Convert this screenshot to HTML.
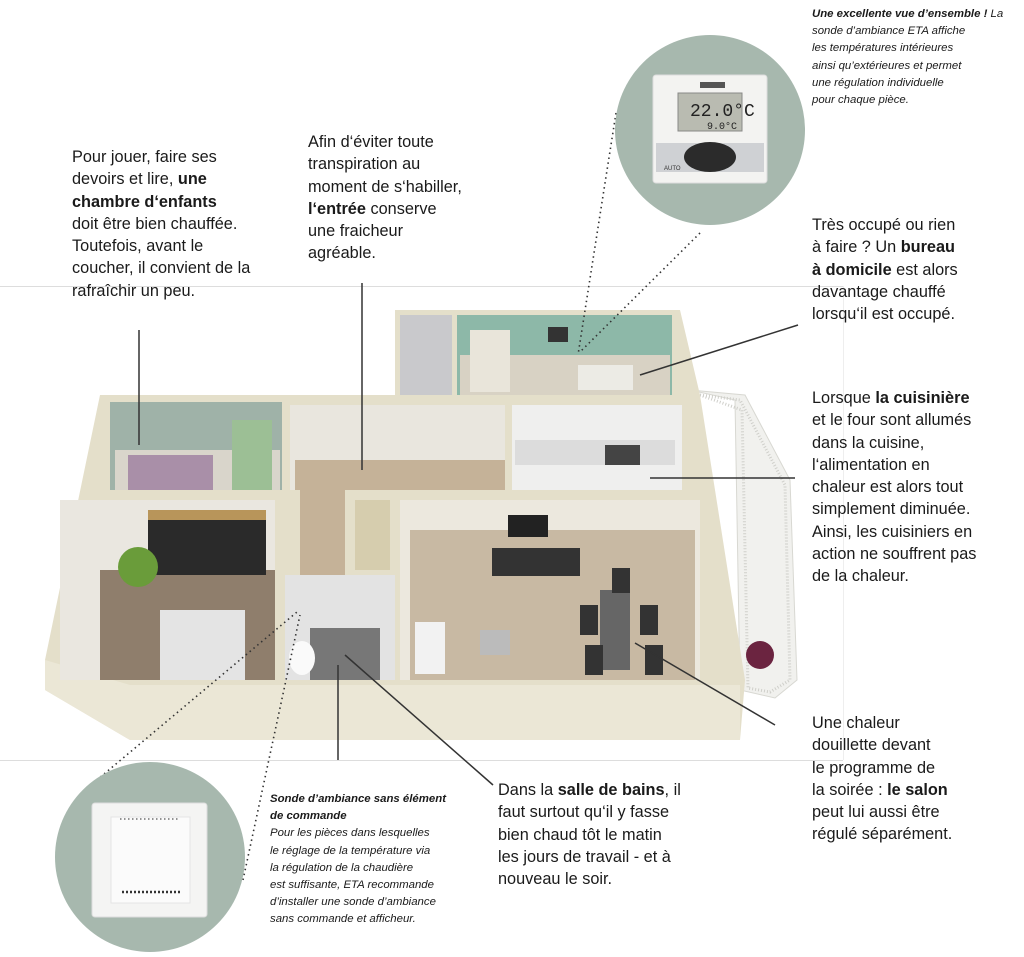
<!DOCTYPE html>
<html><head><meta charset="utf-8"><style>
body{margin:0;width:1024px;height:957px;background:#fff;position:relative;overflow:hidden;font-family:"Liberation Sans",sans-serif;color:#1a1a1a}
.t{position:absolute;font-size:16.3px;line-height:22.3px;white-space:nowrap}
.s{position:absolute;font-size:11.4px;line-height:17.2px;font-style:italic;white-space:nowrap}
svg{position:absolute;left:0;top:0}
</style></head><body>
<svg width="1024" height="957">
<line x1="0" y1="286.5" x2="843" y2="286.5" stroke="#ddd"/>
<line x1="0" y1="760.5" x2="843" y2="760.5" stroke="#ddd"/>
<line x1="843.5" y1="286" x2="843.5" y2="760" stroke="#eee"/>
<!-- balcony -->
<polygon points="690,390 745,395 790,480 797,680 775,698 740,690 735,400" fill="#f1f1ee" stroke="#d8d8d2"/>
<polygon points="700,395 740,400 785,485 790,680 770,692 748,688 742,410" fill="none" stroke="#cfcfca" stroke-dasharray="1 2" stroke-width="3"/>
<!-- building slab -->
<polygon points="100,395 395,395 395,310 680,310 700,395 745,680 740,740 130,740 45,690 45,660" fill="#e4dfca"/>
<polygon points="45,660 130,685 740,685 740,740 130,740 45,690" fill="#ebe7d6"/>
<!-- top wing -->
<rect x="400" y="315" width="52" height="80" fill="#c9c9cc"/>
<rect x="457" y="315" width="215" height="80" fill="#8db8a8"/>
<rect x="460" y="355" width="210" height="40" fill="#d8d2c4"/>
<rect x="470" y="330" width="40" height="62" fill="#e9e5da"/>
<rect x="578" y="365" width="55" height="25" fill="#ecebe5"/>
<rect x="548" y="327" width="20" height="15" fill="#333"/>
<!-- kids room -->
<rect x="110" y="402" width="172" height="88" fill="#9fb2a8"/>
<rect x="115" y="450" width="165" height="40" fill="#d9d5cb"/>
<rect x="128" y="455" width="85" height="35" fill="#a98fa8"/>
<rect x="232" y="420" width="40" height="70" fill="#9cbf95"/>
<!-- hall -->
<rect x="290" y="405" width="215" height="85" fill="#e9e6de"/>
<rect x="295" y="460" width="210" height="30" fill="#c5b298"/>
<rect x="300" y="490" width="45" height="85" fill="#c5b298"/>
<rect x="355" y="500" width="35" height="70" fill="#d6cdae"/>
<!-- kitchen -->
<rect x="512" y="405" width="170" height="85" fill="#efefee"/>
<rect x="515" y="440" width="160" height="25" fill="#dcdcdc"/>
<rect x="605" y="445" width="35" height="20" fill="#444"/>
<!-- bedroom -->
<rect x="60" y="500" width="215" height="180" fill="#eae7e0"/>
<rect x="100" y="570" width="175" height="110" fill="#8f7e6c"/>
<rect x="148" y="510" width="118" height="65" fill="#2a2a2a"/>
<rect x="148" y="510" width="118" height="10" fill="#b8955a"/>
<rect x="160" y="610" width="85" height="70" fill="#e4e4e4"/>
<circle cx="138" cy="567" r="20" fill="#6a9c3a"/>
<!-- bathroom -->
<rect x="285" y="575" width="110" height="105" fill="#e3e3e3"/>
<rect x="310" y="628" width="70" height="52" fill="#777"/>
<ellipse cx="302" cy="658" rx="13" ry="17" fill="#fafafa"/>
<!-- living -->
<rect x="400" y="500" width="300" height="180" fill="#ece8de"/>
<rect x="410" y="530" width="285" height="150" fill="#c8b9a3"/>
<rect x="508" y="515" width="40" height="22" fill="#222"/>
<rect x="492" y="548" width="88" height="28" fill="#333"/>
<rect x="415" y="622" width="30" height="52" fill="#f2f2f2"/>
<rect x="480" y="630" width="30" height="25" fill="#bbb"/>
<rect x="600" y="590" width="30" height="80" fill="#666"/>
<rect x="580" y="605" width="18" height="30" fill="#333"/>
<rect x="640" y="605" width="18" height="30" fill="#333"/>
<rect x="585" y="645" width="18" height="30" fill="#333"/>
<rect x="645" y="645" width="18" height="30" fill="#333"/>
<rect x="612" y="568" width="18" height="25" fill="#333"/>
<circle cx="760" cy="655" r="14" fill="#6b2440"/>
<!-- leader lines -->
<g stroke="#333" stroke-width="1.5" fill="none">
<line x1="139" y1="330" x2="139" y2="445"/>
<line x1="362" y1="283" x2="362" y2="470"/>
<line x1="798" y1="325" x2="640" y2="375"/>
<line x1="795" y1="478" x2="650" y2="478"/>
<line x1="775" y1="725" x2="635" y2="643"/>
<line x1="493" y1="785" x2="345" y2="655"/>
<line x1="338" y1="665" x2="338" y2="760"/>
</g>
<g stroke="#333" stroke-width="1.6" stroke-dasharray="1.5 3.5" fill="none">
<line x1="616" y1="113" x2="578" y2="355"/>
<line x1="700" y1="233" x2="580" y2="352"/>
<line x1="85" y1="790" x2="297" y2="612"/>
<line x1="243" y1="880" x2="300" y2="615"/>
</g>
<!-- circles -->
<circle cx="710" cy="130" r="95" fill="#a7b8ae"/>
<circle cx="150" cy="857" r="95" fill="#a7b8ae"/>
<!-- thermostat -->
<rect x="653" y="75" width="114" height="108" rx="3" fill="#f3f3f1" stroke="#ddd"/>
<rect x="700" y="82" width="25" height="6" fill="#555"/>
<rect x="678" y="93" width="64" height="38" fill="#b9bbb1" stroke="#888"/>
<text x="690" y="116" font-family="Liberation Mono,monospace" font-size="18" fill="#222">22.0°C</text>
<text x="707" y="129" font-family="Liberation Mono,monospace" font-size="10" fill="#222">9.0°C</text>
<rect x="656" y="143" width="108" height="29" fill="#cfd1d4"/>
<ellipse cx="710" cy="157" rx="26" ry="15" fill="#2b2b2b"/>
<text x="664" y="170" font-size="6" fill="#333">AUTO</text>
<!-- switch -->
<rect x="92" y="803" width="115" height="114" rx="3" fill="#f4f4f3" stroke="#ddd"/>
<rect x="111" y="817" width="79" height="86" fill="#fbfbfb" stroke="#e4e4e4"/>
<line x1="120" y1="819" x2="180" y2="819" stroke="#555" stroke-dasharray="1.5 2.5" stroke-width="1.2"/>
<line x1="122" y1="892" x2="182" y2="892" stroke="#333" stroke-dasharray="2 2" stroke-width="2.5"/>
</svg>
<div class="s" style="left:812px;top:6px"><b>Une excellente vue d’ensemble !</b> La<br>sonde d’ambiance ETA affiche<br>les températures intérieures<br>ainsi qu’extérieures et permet<br>une régulation individuelle<br>pour chaque pièce.</div>
<div class="t" style="left:72px;top:146px">Pour jouer, faire ses<br>devoirs et lire, <b>une</b><br><b>chambre d‘enfants</b><br>doit être bien chauffée.<br>Toutefois, avant le<br>coucher, il convient de la<br>rafraîchir un peu.</div>
<div class="t" style="left:308px;top:131px">Afin d‘éviter toute<br>transpiration au<br>moment de s‘habiller,<br><b>l‘entrée</b> conserve<br>une fraicheur<br>agréable.</div>
<div class="t" style="left:812px;top:214px">Très occupé ou rien<br>à faire ? Un <b>bureau</b><br><b>à domicile</b> est alors<br>davantage chauffé<br>lorsqu‘il est occupé.</div>
<div class="t" style="left:812px;top:387px">Lorsque <b>la cuisinière</b><br>et le four sont allumés<br>dans la cuisine,<br>l‘alimentation en<br>chaleur est alors tout<br>simplement diminuée.<br>Ainsi, les cuisiniers en<br>action ne souffrent pas<br>de la chaleur.</div>
<div class="t" style="left:812px;top:712px">Une chaleur<br>douillette devant<br>le programme de<br>la soirée : <b>le salon</b><br>peut lui aussi être<br>régulé séparément.</div>
<div class="t" style="left:498px;top:779px">Dans la <b>salle de bains</b>, il<br>faut surtout qu‘il y fasse<br>bien chaud tôt le matin<br>les jours de travail - et à<br>nouveau le soir.</div>
<div class="s" style="left:270px;top:791px"><b>Sonde d’ambiance sans élément<br>de commande</b><br>Pour les pièces dans lesquelles<br>le réglage de la température via<br>la régulation de la chaudière<br>est suffisante, ETA recommande<br>d’installer une sonde d’ambiance<br>sans commande et afficheur.</div>
</body></html>
